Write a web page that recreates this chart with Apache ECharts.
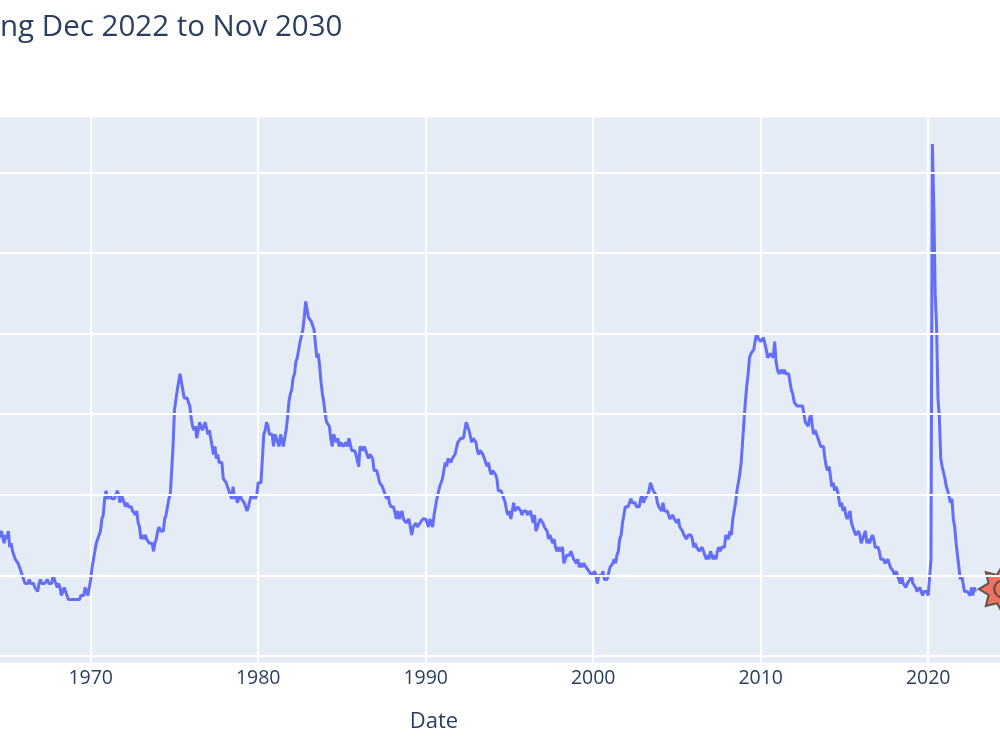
<!DOCTYPE html>
<html>
<head>
<meta charset="utf-8">
<script src="https://cdn.jsdelivr.net/npm/echarts@6/dist/echarts.min.js"></script>
<style>
  html, body { margin: 0; padding: 0; background: #fff; }
  #chart { width: 1000px; height: 750px; }
</style>
</head>
<body>
<div id="chart"></div>
<script>
// monthly unemployment rate, Jan 1964 .. Nov 2022
var startYear = 1964;
var rate1960s = [
  5.6, 5.4, 5.4, 5.3, 5.1, 5.2, 4.9, 5.0, 5.1, 5.1, 4.8, 5.0,
  4.9, 5.1, 4.7, 4.8, 4.6, 4.6, 4.4, 4.4, 4.3, 4.2, 4.1, 4.0,
  4.0, 3.8, 3.8, 3.8, 3.9, 3.8, 3.8, 3.8, 3.7, 3.7, 3.6, 3.8,
  3.9, 3.8, 3.8, 3.8, 3.8, 3.9, 3.8, 3.8, 3.8, 4.0, 3.9, 3.8,
  3.7, 3.8, 3.7, 3.5, 3.5, 3.7, 3.7, 3.5, 3.4, 3.4, 3.4, 3.4,
  3.4, 3.4, 3.4, 3.4, 3.4, 3.5, 3.5, 3.5, 3.7, 3.7, 3.5, 3.5
];
var rate1970s = [
  3.9, 4.2, 4.4, 4.6, 4.8, 4.9, 5.0, 5.1, 5.4, 5.5, 5.9, 6.1,
  5.9, 5.9, 6.0, 5.9, 5.9, 5.9, 6.0, 6.1, 6.0, 5.8, 6.0, 6.0,
  5.8, 5.7, 5.8, 5.7, 5.7, 5.7, 5.6, 5.6, 5.5, 5.6, 5.3, 5.2,
  4.9, 5.0, 4.9, 5.0, 4.9, 4.9, 4.8, 4.8, 4.8, 4.6, 4.8, 4.9,
  5.1, 5.2, 5.1, 5.1, 5.1, 5.4, 5.5, 5.5, 5.9, 6.0, 6.6, 7.2,
  8.1, 8.1, 8.6, 8.8, 9.0, 8.8, 8.6, 8.4, 8.4, 8.4, 8.3, 8.2,
  7.9, 7.7, 7.6, 7.7, 7.4, 7.6, 7.8, 7.8, 7.6, 7.7, 7.8, 7.8,
  7.5, 7.6, 7.4, 7.2, 7.0, 7.2, 6.9, 7.0, 6.8, 6.8, 6.8, 6.4,
  6.4, 6.3, 6.3, 6.1, 6.0, 5.9, 6.2, 5.9, 6.0, 5.8, 5.9, 6.0,
  5.9, 5.9, 5.8, 5.8, 5.6, 5.7, 5.7, 6.0, 5.9, 6.0, 5.9, 6.0
];
var rate1980s = [
  6.3, 6.3, 6.3, 6.9, 7.5, 7.6, 7.8, 7.7, 7.5, 7.5, 7.5, 7.2,
  7.5, 7.4, 7.4, 7.2, 7.5, 7.5, 7.2, 7.4, 7.6, 7.9, 8.3, 8.5,
  8.6, 8.9, 9.0, 9.3, 9.4, 9.6, 9.8, 9.8, 10.1, 10.4, 10.8, 10.8,
  10.4, 10.4, 10.3, 10.2, 10.1, 10.1, 9.4, 9.5, 9.2, 8.8, 8.5, 8.3,
  8.0, 7.8, 7.8, 7.7, 7.4, 7.2, 7.5, 7.5, 7.3, 7.4, 7.2, 7.3,
  7.3, 7.2, 7.2, 7.3, 7.2, 7.4, 7.4, 7.1, 7.1, 7.1, 7.0, 7.0,
  6.7, 7.2, 7.2, 7.1, 7.2, 7.2, 7.0, 6.9, 7.0, 7.0, 6.9, 6.6,
  6.6, 6.6, 6.6, 6.3, 6.3, 6.2, 6.1, 6.0, 5.9, 6.0, 5.8, 5.7,
  5.7, 5.7, 5.7, 5.4, 5.6, 5.4, 5.4, 5.6, 5.4, 5.4, 5.3, 5.3,
  5.4, 5.2, 5.0, 5.2, 5.2, 5.3, 5.2, 5.2, 5.3, 5.3, 5.4, 5.4
];
var rate1990s = [
  5.4, 5.3, 5.2, 5.4, 5.4, 5.2, 5.5, 5.7, 5.9, 5.9, 6.2, 6.3,
  6.4, 6.6, 6.8, 6.7, 6.9, 6.9, 6.8, 6.9, 6.9, 7.0, 7.0, 7.3,
  7.3, 7.4, 7.4, 7.4, 7.6, 7.8, 7.7, 7.6, 7.6, 7.3, 7.4, 7.4,
  7.3, 7.1, 7.0, 7.1, 7.1, 7.0, 6.9, 6.8, 6.7, 6.8, 6.6, 6.5,
  6.6, 6.6, 6.5, 6.4, 6.1, 6.1, 6.1, 6.0, 5.9, 5.8, 5.6, 5.5,
  5.6, 5.4, 5.4, 5.8, 5.6, 5.6, 5.7, 5.7, 5.6, 5.5, 5.6, 5.6,
  5.6, 5.5, 5.5, 5.6, 5.6, 5.3, 5.5, 5.1, 5.2, 5.2, 5.4, 5.4,
  5.3, 5.2, 5.2, 5.1, 4.9, 5.0, 4.9, 4.8, 4.9, 4.7, 4.6, 4.7,
  4.6, 4.6, 4.7, 4.3, 4.4, 4.5, 4.5, 4.5, 4.6, 4.5, 4.4, 4.4,
  4.3, 4.4, 4.2, 4.3, 4.2, 4.3, 4.3, 4.2, 4.2, 4.1, 4.1, 4.0
];
var rate2000s = [
  4.0, 4.1, 4.0, 3.8, 4.0, 4.0, 4.0, 4.1, 3.9, 3.9, 3.9, 3.9,
  4.2, 4.2, 4.3, 4.4, 4.3, 4.5, 4.6, 4.9, 5.0, 5.3, 5.5, 5.7,
  5.7, 5.7, 5.7, 5.9, 5.8, 5.8, 5.8, 5.7, 5.7, 5.7, 5.9, 6.0,
  5.8, 5.9, 5.9, 6.0, 6.1, 6.3, 6.2, 6.1, 6.1, 6.0, 5.8, 5.7,
  5.7, 5.6, 5.8, 5.6, 5.6, 5.6, 5.5, 5.4, 5.4, 5.5, 5.4, 5.4,
  5.3, 5.4, 5.2, 5.2, 5.1, 5.0, 5.0, 4.9, 5.0, 5.0, 5.0, 4.9,
  4.7, 4.8, 4.7, 4.7, 4.6, 4.6, 4.7, 4.7, 4.5, 4.4, 4.5, 4.4,
  4.6, 4.5, 4.4, 4.5, 4.4, 4.6, 4.7, 4.6, 4.7, 4.7, 4.7, 5.0,
  5.0, 4.9, 5.1, 5.0, 5.4, 5.6, 5.8, 6.1, 6.1, 6.5, 6.8, 7.3,
  7.8, 8.3, 8.7, 9.0, 9.4, 9.5, 9.5, 9.6, 9.8, 10.0, 9.9, 9.9
];
var rate2010s = [
  9.8, 9.8, 9.9, 9.9, 9.6, 9.4, 9.4, 9.5, 9.5, 9.4, 9.8, 9.3,
  9.1, 9.0, 9.0, 9.1, 9.0, 9.1, 9.0, 9.0, 9.0, 8.8, 8.6, 8.5,
  8.3, 8.3, 8.2, 8.2, 8.2, 8.2, 8.2, 8.0, 7.8, 7.8, 7.7, 7.9,
  8.0, 7.7, 7.5, 7.6, 7.5, 7.5, 7.3, 7.2, 7.2, 7.2, 6.9, 6.7,
  6.6, 6.7, 6.7, 6.2, 6.3, 6.1, 6.2, 6.1, 5.9, 5.7, 5.8, 5.6,
  5.7, 5.5, 5.4, 5.4, 5.6, 5.3, 5.2, 5.1, 5.0, 5.0, 5.1, 5.0,
  4.8, 4.9, 5.0, 5.1, 4.8, 4.9, 4.8, 4.9, 5.0, 4.9, 4.7, 4.7,
  4.7, 4.6, 4.4, 4.4, 4.4, 4.3, 4.3, 4.4, 4.3, 4.2, 4.2, 4.1,
  4.0, 4.1, 4.0, 4.0, 3.8, 4.0, 3.8, 3.8, 3.7, 3.8, 3.8, 3.9,
  4.0, 3.8, 3.8, 3.7, 3.6, 3.6, 3.7, 3.6, 3.5, 3.6, 3.6, 3.6
];
var rate2020s = [
  3.5, 3.5, 4.4, 14.7, 13.2, 11.0, 10.2, 8.4, 7.9, 6.9, 6.7, 6.7,
  6.4, 6.2, 6.1, 6.1, 5.8, 5.9, 5.4, 5.2, 4.8, 4.5, 4.2, 3.9,
  4.0, 3.8, 3.6, 3.6, 3.6, 3.6, 3.5, 3.7, 3.5, 3.7, 3.6
];

// forecast marker (partly outside the frame)
var forecastMarker = [[2024.45, 3.66]];

// visible axis ranges
var xRange = [1964.585, 2024.287];
var yRange = [1.834, 15.364];
var yGridValues = [2, 4, 6, 8, 10, 12, 14];

var titleText = 'ng Dec 2022 to Nov 2030';

var allRates = [].concat(rate1960s, rate1970s, rate1980s, rate1990s, rate2000s, rate2010s, rate2020s);
var seriesData = allRates.map(function (v, i) {
  return [startYear + i / 12, v];
});

// 8 point star, used as a symbol shape
function starPath() {
  var pts = [];
  for (var k = 0; k < 16; k++) {
    var a = Math.PI + k * Math.PI / 8;
    var r = (k % 2 === 0) ? 50 : 32;
    pts.push((50 + r * Math.cos(a)).toFixed(2) + ',' + (50 + r * Math.sin(a)).toFixed(2));
  }
  return 'path://M' + pts.join(' L') + ' Z';
}

var chart = echarts.init(document.getElementById('chart'));

var option = {
  animation: false,
  backgroundColor: '#ffffff',
  textStyle: { fontFamily: '"Open Sans", sans-serif', color: '#2a3f5f' },
  title: {
    text: titleText,
    left: 0,
    top: 13,
    padding: 0,
    textStyle: { fontFamily: '"Open Sans", sans-serif', fontSize: 29.5, fontWeight: 'normal', color: '#2a3f5f' }
  },
  grid: {
    left: 0,
    right: 0,
    top: 117.3,
    bottom: 87.3,
    show: true,
    backgroundColor: '#E5ECF6',
    borderWidth: 0
  },
  xAxis: {
    type: 'value',
    min: xRange[0],
    max: xRange[1],
    splitNumber: 6,
    name: 'Date',
    nameLocation: 'middle',
    nameGap: 48,
    nameTextStyle: { fontSize: 22, color: '#2a3f5f', padding: [0, 132, 0, 0] },
    axisLine: { show: false },
    axisTick: { show: false },
    axisLabel: {
      fontSize: 19.5,
      color: '#2a3f5f',
      margin: 6,
      showMinLabel: false,
      showMaxLabel: false,
      formatter: function (v) { return String(v); }
    },
    splitLine: { show: true, showMinLine: false, showMaxLine: false, lineStyle: { color: '#ffffff', width: 2 } }
  },
  yAxis: {
    type: 'value',
    min: yRange[0],
    max: yRange[1],
    axisLine: { show: false },
    axisTick: { show: false },
    axisLabel: { show: false },
    splitLine: { show: false }
  },
  series: [
    {
      name: 'grid',
      type: 'line',
      data: [],
      silent: true,
      z: 1,
      markLine: {
        silent: true,
        symbol: ['none', 'none'],
        label: { show: false },
        lineStyle: { color: '#ffffff', width: 2, type: 'solid' },
        data: yGridValues.map(function (v) { return { yAxis: v }; })
      }
    },
    {
      name: 'Unemployment rate',
      type: 'line',
      data: seriesData,
      showSymbol: false,
      z: 3,
      lineStyle: { color: '#636EFA', width: 3 }
    },
    {
      name: 'Forecast',
      type: 'scatter',
      data: forecastMarker,
      clip: false,
      z: 4,
      symbol: starPath(),
      symbolSize: 48,
      itemStyle: { color: '#EF553B', borderColor: '#3d3d3d', borderWidth: 2 }
    },
    {
      name: 'Forecast ring',
      type: 'scatter',
      data: forecastMarker,
      clip: false,
      z: 5,
      symbol: 'circle',
      symbolSize: 17,
      itemStyle: { color: 'rgba(0,0,0,0)', borderColor: '#3d3d3d', borderWidth: 2 }
    }
  ]
};

chart.setOption(option);
</script>
</body>
</html>
